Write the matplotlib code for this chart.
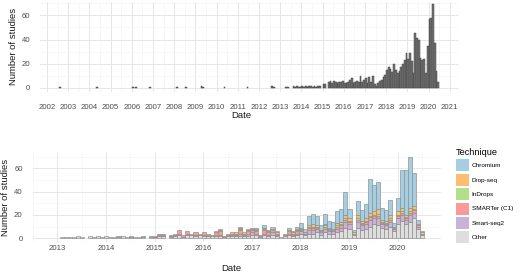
import matplotlib
matplotlib.use("Agg")
import matplotlib.pyplot as plt
from matplotlib.patches import Patch
from matplotlib.ticker import MultipleLocator

plt.rcParams['font.family'] = ['Liberation Sans', 'DejaVu Sans']

# ---------------- data: top panel (all studies, monthly counts) ----------------
top_early_year = [2002, 2004, 2006, 2006, 2006, 2008, 2008, 2009, 2009, 2010, 2011, 2012, 2012]
top_early_month = [8, 5, 1, 3, 11, 2, 7, 4, 5, 5, 6, 8, 9]
top_early_count = [1, 1, 1, 1, 1, 1, 1, 2, 1, 1, 1, 2, 1]

top_start_year = 2013  # monthly counts from Jan 2013
top_counts = [
    0, 0, 0, 1, 1, 0, 0, 2, 1, 2, 1, 1,        # 2013
    2, 1, 2, 1, 2, 2, 1, 2, 1, 2, 2, 0,        # 2014
    3, 3, 0, 5, 6, 4, 6, 5, 4, 5, 5, 6,        # 2015
    4, 4, 5, 7, 8, 4, 5, 6, 5, 10, 5, 7,       # 2016
    8, 4, 9, 5, 10, 3, 2, 4, 6, 7, 9, 11,      # 2017
    15, 17, 16, 13, 20, 15, 12, 14, 17, 20, 23, 29,  # 2018
    24, 29, 22, 12, 45, 41, 40, 25, 23, 24, 12, 35,  # 2019
    57, 58, 69, 37, 14, 5,                     # 2020
]
top_years = list(range(2002, 2022))

# ---------------- data: bottom panel (by technique, monthly from Jan 2013) ----------------
bot_start_year = 2013
techniques = ["Chromium", "Drop-seq", "InDrops", "SMARTer (C1)", "Smart-seq2", "Other"]
colors = ["#A6CEE3", "#FDBF6F", "#B2DF8A", "#FB9A99", "#CAB2D6", "#DEDEDE"]

other = [
    0, 1, 1, 1, 1, 2, 1, 0, 2, 1, 2, 1,
    2, 1, 1, 1, 2, 1, 1, 1, 1, 1, 0, 1,
    1, 2, 2, 0, 1, 2, 3, 1, 3, 3, 2, 3,
    2, 2, 2, 2, 2, 1, 2, 2, 2, 2, 2, 2,
    3, 3, 1, 3, 2, 3, 2, 1, 2, 3, 2, 3,
    4, 3, 4, 4, 5, 3, 5, 4, 4, 5, 6, 9,
    8, 3, 9, 7, 8, 10, 12, 11, 9, 8, 10, 6,
    12, 15, 12, 14, 17, 8, 3,
]
smartseq2 = [
    0, 0, 0, 0, 0, 0, 0, 0, 0, 0, 0, 0,
    0, 0, 0, 1, 0, 0, 1, 0, 0, 1, 0, 1,
    0, 1, 1, 0, 1, 1, 1, 0, 1, 0, 1, 0,
    1, 0, 0, 1, 1, 0, 1, 1, 1, 2, 1, 2,
    2, 1, 1, 1, 1, 2, 1, 0, 0, 1, 1, 1,
    2, 1, 3, 3, 3, 2, 3, 2, 2, 3, 3, 5,
    4, 1, 5, 4, 4, 6, 5, 6, 3, 3, 4, 2,
    5, 5, 4, 6, 5, 2, 1,
]
smarter_c1 = [
    0, 0, 0, 0, 0, 0, 0, 0, 0, 0, 0, 0,
    0, 0, 0, 0, 0, 0, 0, 0, 0, 0, 0, 0,
    1, 1, 1, 0, 1, 1, 3, 2, 2, 1, 2, 1,
    2, 1, 1, 2, 3, 1, 1, 1, 1, 3, 1, 2,
    2, 2, 1, 3, 2, 2, 1, 0, 1, 2, 1, 2,
    1, 1, 2, 2, 1, 1, 2, 1, 1, 2, 2, 2,
    2, 0, 2, 1, 2, 2, 2, 2, 1, 1, 2, 1,
    2, 2, 1, 2, 2, 1, 0,
]
indrops = [
    0, 0, 0, 0, 0, 0, 0, 0, 0, 0, 0, 0,
    0, 0, 0, 0, 0, 0, 0, 0, 0, 0, 0, 0,
    0, 0, 0, 0, 0, 0, 0, 0, 0, 0, 0, 0,
    0, 0, 0, 0, 1, 0, 0, 0, 0, 1, 0, 0,
    0, 1, 0, 1, 0, 0, 0, 0, 0, 0, 0, 1,
    1, 0, 1, 1, 1, 0, 1, 1, 0, 1, 1, 1,
    1, 0, 1, 1, 1, 1, 1, 2, 1, 1, 1, 0,
    1, 1, 1, 1, 1, 0, 0,
]
dropseq = [
    0, 0, 0, 0, 0, 0, 0, 0, 0, 0, 0, 0,
    0, 0, 0, 0, 0, 0, 0, 0, 0, 0, 0, 0,
    0, 0, 0, 0, 0, 0, 0, 0, 0, 0, 0, 0,
    0, 1, 0, 1, 1, 0, 0, 1, 1, 1, 1, 1,
    1, 1, 0, 1, 1, 1, 1, 0, 0, 1, 1, 1,
    1, 0, 1, 2, 1, 1, 1, 1, 1, 2, 2, 3,
    2, 1, 3, 2, 2, 3, 3, 4, 2, 2, 3, 1,
    3, 3, 2, 3, 3, 1, 1,
]
chromium = [
    0, 0, 0, 0, 0, 0, 0, 0, 0, 0, 0, 0,
    0, 0, 0, 0, 0, 0, 0, 0, 0, 0, 0, 0,
    0, 0, 0, 0, 0, 0, 0, 0, 0, 0, 0, 0,
    0, 0, 0, 0, 0, 0, 0, 0, 0, 1, 0, 1,
    1, 1, 0, 2, 1, 2, 1, 0, 1, 2, 1, 2,
    4, 3, 8, 9, 8, 4, 9, 6, 6, 10, 11, 20,
    8, 2, 12, 9, 12, 29, 23, 23, 10, 9, 13, 3,
    12, 33, 39, 44, 28, 4, 1,
]
bot_years = list(range(2013, 2021))

# stacking order bottom -> top
stack = [("Other", other), ("Smart-seq2", smartseq2), ("SMARTer (C1)", smarter_c1),
         ("InDrops", indrops), ("Drop-seq", dropseq), ("Chromium", chromium)]
color_of = dict(zip(techniques, colors))

W, H = 520, 273
fig = plt.figure(figsize=(W / 100, H / 100), dpi=100)

def px_axes(left, top, right, bottom):
    return fig.add_axes([left / W, 1 - bottom / H, (right - left) / W, (bottom - top) / H])

grid_major = "#E6E6E6"
grid_minor = "#F2F2F2"
tick_col = "#4D4D4D"

def style(ax, ypad, xpad):
    for s in ax.spines.values():
        s.set_visible(False)
    ax.set_axisbelow(True)
    ax.grid(which="major", color=grid_major, lw=0.7)
    ax.grid(which="minor", color=grid_minor, lw=0.4)
    ax.tick_params(which="both", length=0)
    ax.tick_params(axis="y", labelsize=5.6, labelcolor=tick_col, pad=ypad)
    ax.tick_params(axis="x", labelsize=5.6, labelcolor=tick_col, pad=xpad)
    ax.yaxis.set_major_locator(MultipleLocator(20))
    ax.yaxis.set_minor_locator(MultipleLocator(10))

# ---------------- top panel ----------------
ax1 = px_axes(40, 1.5, 458, 92.1)
x_early = [y + (m - 0.5) / 12 for y, m in zip(top_early_year, top_early_month)]
x_top = [top_start_year + (i + 0.5) / 12 for i in range(len(top_counts))]
xs = x_early + x_top
hs = top_early_count + top_counts
xs_nz = [x for x, h in zip(xs, hs) if h > 0]
hs_nz = [h for h in hs if h > 0]
ax1.bar(xs_nz, hs_nz, width=1 / 12, color="#737373", edgecolor="#444444", linewidth=0.35)
ax1.set_xlim(2001.67, 2021.39)
ax1.set_ylim(-3.4, 71.4)
ax1.set_xticks(top_years)
ax1.set_xticklabels([str(y) for y in top_years])
ax1.set_xticks([y + 0.5 for y in top_years[:-1]], minor=True)
style(ax1, ypad=7.0, xpad=8.4)
ax1.set_xlabel("Date", fontsize=6.8, color="#1A1A1A")
ax1.xaxis.set_label_coords(0.482, -0.21)
ax1.set_ylabel("Number of studies", fontsize=6.8, color="#1A1A1A")
ax1.yaxis.set_label_coords(-0.052, 0.5)

# ---------------- bottom panel ----------------
ax2 = px_axes(33, 152.6, 441, 242.4)
n = len(other)
x_bot = [bot_start_year + (i + 0.1) / 12 for i in range(n)]
base = [0] * n
for name, vals in stack:
    xi = [x for x, v in zip(x_bot, vals) if v > 0]
    bi = [b for b, v in zip(base, vals) if v > 0]
    vi = [v for v in vals if v > 0]
    ax2.bar(xi, vi, bottom=bi, width=1 / 12, color=color_of[name],
            edgecolor="#8A8A8A", linewidth=0.45)
    base = [b + v for b, v in zip(base, vals)]
ax2.set_xlim(2012.70, 2020.89)
ax2.set_ylim(-3.5, 73.5)
ax2.set_xticks(bot_years)
ax2.set_xticklabels([str(y) for y in bot_years])
ax2.set_xticks([y + 0.5 for y in range(2012, 2021)], minor=True)
style(ax2, ypad=7.4, xpad=1.8)
ax2.set_xlabel("Date", fontsize=6.8, color="#1A1A1A")
ax2.xaxis.set_label_coords(0.485, -0.245)
ax2.set_ylabel("Number of studies", fontsize=6.8, color="#1A1A1A")
ax2.yaxis.set_label_coords(-0.057, 0.5)

# ---------------- legend ----------------
handles = [Patch(facecolor=color_of[t], edgecolor="none") for t in techniques]
leg = fig.legend(handles, techniques, title="Technique", loc="upper left",
                 bbox_to_anchor=(456 / W, 1 - 148.0 / H), frameon=False,
                 fontsize=4.6, title_fontsize=6.6, handlelength=2.0, handleheight=2.5,
                 labelspacing=0.38, handletextpad=0.45, borderpad=0, borderaxespad=0,
                 alignment="left")

fig.savefig("out.png", dpi=100)
